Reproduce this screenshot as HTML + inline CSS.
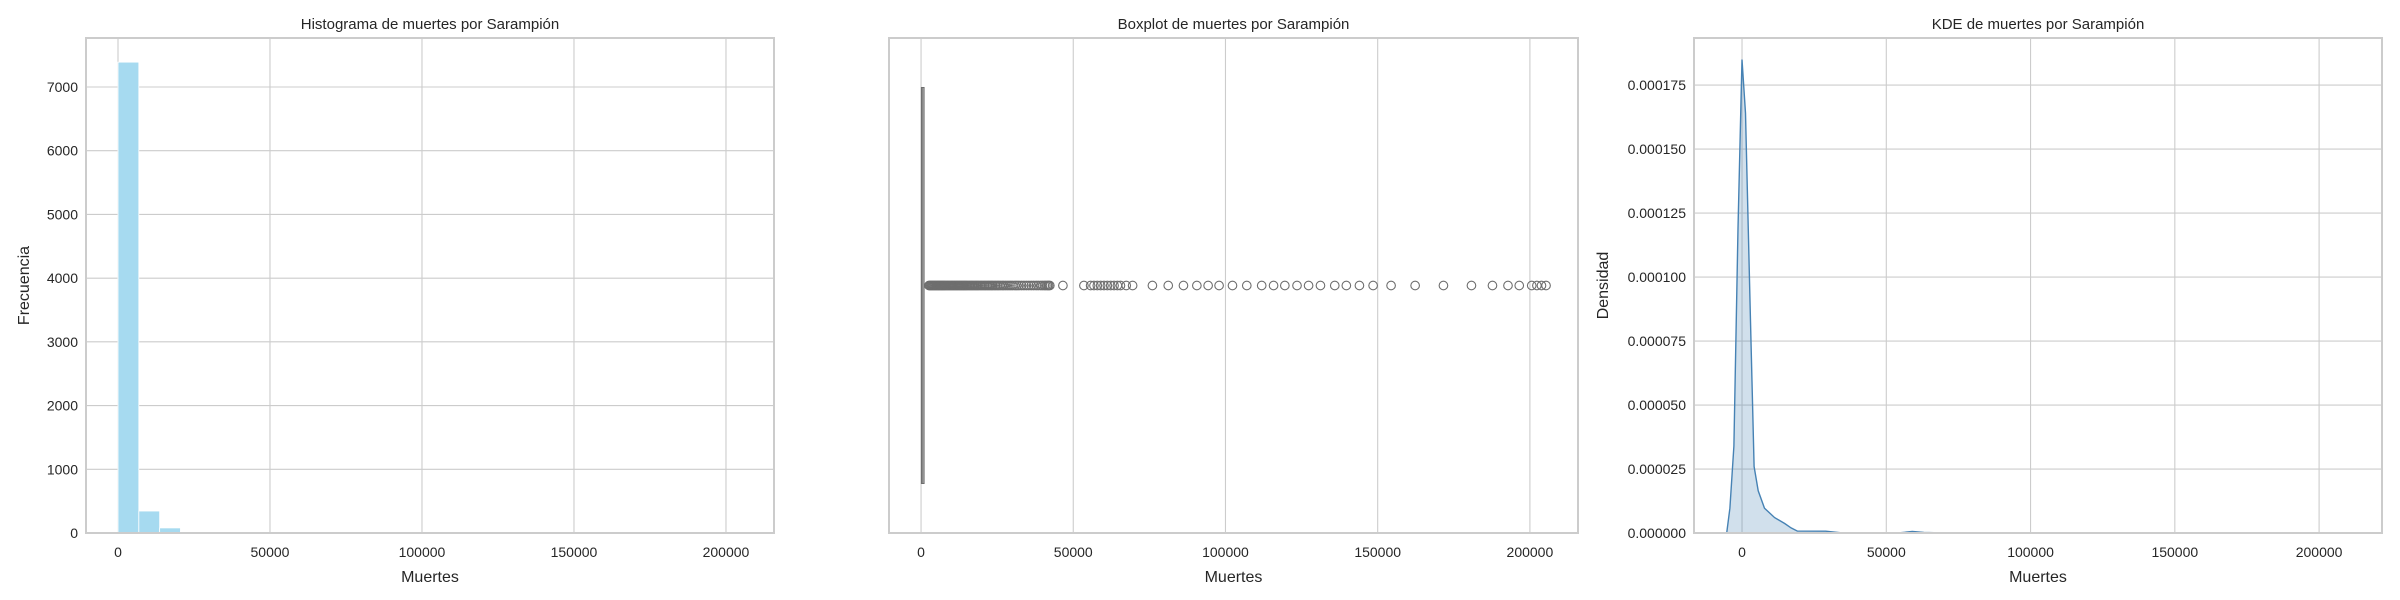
<!DOCTYPE html>
<html><head><meta charset="utf-8">
<style>
html,body{margin:0;padding:0;background:#fff;}
svg{display:block;font-family:"Liberation Sans",Arial,sans-serif;}
</style></head>
<body>
<svg id="fig" width="2400" height="600" viewBox="0 0 2400 600"></svg>
<script>
// ---- data ----
const histBinWidth = 6850;
const histCounts = [7390, 345, 80, 22, 12, 8, 5, 4, 6, 9, 3, 2, 1, 2, 1, 1, 1, 1, 1, 1, 1, 1, 1, 1, 1, 1, 1, 1, 1, 1];
const xTicks = [0, 50000, 100000, 150000, 200000];
const xTickLabels = ["0", "50000", "100000", "150000", "200000"];
const histYTicks = [0, 1000, 2000, 3000, 4000, 5000, 6000, 7000];
const boxStats = [0, 120, 350, 1000, 2500]; // min, q1, median, q3, upper whisker
const outliers = [2600, 2900, 3200, 3500, 3800, 4100, 4400, 4700, 5000, 5300, 5600, 5900, 6200, 6500, 6800, 7100, 7400, 7700, 8000, 8350, 8700, 9050, 9400, 9750, 10100, 10450, 10800, 11150, 11500, 11850, 12200, 12550, 12900, 13250, 13600, 13950, 14300, 14650, 15000, 15400, 15800, 16200, 16600, 17000, 17400, 17800, 18200, 18600, 19000, 19450, 19900, 20350, 20800, 21250, 21700, 22150, 22600, 23050, 23500, 24000, 24500, 25000, 25500, 26000, 26600, 27100, 27700, 28300, 28900, 29500, 30100, 30800, 31500, 32200, 33000, 33800, 34600, 35400, 36200, 37000, 37800, 38500, 39300, 39900, 40500, 41000, 41500, 41900, 42300, 46600, 53500, 55700, 56800, 57900, 59000, 60100, 61200, 62300, 63400, 64500, 65500, 67400, 69500, 76000, 81200, 86200, 90600, 94300, 97900, 102300, 107000, 111900, 115800, 119500, 123500, 127300, 131200, 135900, 139700, 144000, 148500, 154400, 162300, 171600, 180800, 187700, 192800, 196500, 200600, 202300, 203800, 205300];
const kdeX = [-5300, -4200, -2800, -1400, 0, 1200, 2800, 4200, 5600, 7800, 11300, 14800, 17000, 19200, 29000, 34000, 55000, 59000, 63000, 70000, 100000, 150000, 210000];
const kdeY = [0, 9.7e-6, 34e-6, 119e-6, 185e-6, 164e-6, 89e-6, 26e-6, 16.5e-6, 9.7e-6, 6e-6, 3.7e-6, 2e-6, 0.75e-6, 0.7e-6, 0.1e-6, 0.1e-6, 0.6e-6, 0.2e-6, 0.05e-6, 0.02e-6, 0.02e-6, 0.01e-6];
const kdeYTicks = [0, 0.000025, 0.00005, 0.000075, 0.0001, 0.000125, 0.00015, 0.000175];
const kdeYTickLabels = ["0.000000", "0.000025", "0.000050", "0.000075", "0.000100", "0.000125", "0.000150", "0.000175"];

const NS = "http://www.w3.org/2000/svg";
const svg = document.getElementById('fig');
function mk(tag, attrs, parent, text) {
  const e = document.createElementNS(NS, tag);
  for (const k in attrs) e.setAttribute(k, attrs[k]);
  if (text !== undefined) e.textContent = text;
  (parent || svg).appendChild(e);
  return e;
}
const TOP = 38, BOT = 533;
const TXT = "#262626", GRID = "#cccccc";

function panel(name, left, right, xmin, xmax, ymin, ymax) {
  const g = mk('g', {});
  
  
  const sx = v => left + (v - xmin) / (xmax - xmin) * (right - left);
  const sy = v => BOT - (v - ymin) / (ymax - ymin) * (BOT - TOP);
  return {g, sx, sy, left, right};
}
function xAxis(p, gridOn) {
  xTicks.forEach((t, i) => {
    const x = p.sx(t);
    if (gridOn) {
      const l = mk('line', {x1: x, x2: x, y1: TOP, y2: BOT, stroke: GRID, 'stroke-width': 1.1}, p.g);
      
      
    }
    const tx = mk('text', {x: x, y: 557, 'font-size': 14, fill: TXT, 'text-anchor': 'middle'}, p.g, xTickLabels[i]);
    
    
  });
  const xl = mk('text', {x: (p.left + p.right) / 2, y: 582, 'font-size': 16, fill: TXT, 'text-anchor': 'middle'}, p.g, 'Muertes');
  
  
}
function yAxis(p, ticks, labels) {
  ticks.forEach((t, i) => {
    const y = p.sy(t);
    const l = mk('line', {x1: p.left, x2: p.right, y1: y, y2: y, stroke: GRID, 'stroke-width': 1.1}, p.g);
    
    
    const tx = mk('text', {x: p.left - 8, y: y + 5, 'font-size': 14, fill: TXT, 'text-anchor': 'end'}, p.g, labels[i]);
    
    
  });
}
function title(p, t) {
  const e = mk('text', {x: (p.left + p.right) / 2, y: 29, 'font-size': 15, fill: TXT, 'text-anchor': 'middle'}, p.g, t);
  
  
}
function frame(p) {
  const r = mk('rect', {x: p.left, y: TOP, width: p.right - p.left, height: BOT - TOP, fill: 'none', stroke: GRID, 'stroke-width': 2}, p.g);
  
  
}

// ---- Panel 1: histogram ----
const p1 = panel('histogram-panel', 86, 774, -10526, 215800, 0, 7769);
xAxis(p1, true);
yAxis(p1, histYTicks, histYTicks.map(String));
histCounts.forEach((c, i) => {
  const x0 = p1.sx(i * histBinWidth), x1 = p1.sx((i + 1) * histBinWidth);
  const b = mk('rect', {x: x0, y: p1.sy(c), width: x1 - x0, height: BOT - p1.sy(c), fill: '#a6daf0', stroke: '#ffffff', 'stroke-width': 0.8}, p1.g);
  
  
});
frame(p1);
title(p1, 'Histograma de muertes por Sarampión');
const yl1 = mk('text', {x: 0, y: 0, 'font-size': 16, fill: TXT, 'text-anchor': 'middle', transform: 'translate(29,285.5) rotate(-90)'}, p1.g, 'Frecuencia');



// ---- Panel 2: boxplot ----
const p2 = panel('boxplot-panel', 889, 1578, -10526, 215800, -0.5, 0.5);
xAxis(p2, true);
const cy = p2.sy(0), bh = 0.4;
outliers.forEach(v => {
  const c = mk('circle', {cx: p2.sx(v), cy: cy, r: 4.3, fill: 'none', stroke: '#6e6e6e', 'stroke-width': 1.1}, p2.g);
  
  
});
const wl = mk('line', {x1: p2.sx(boxStats[3]), x2: p2.sx(boxStats[4]), y1: cy, y2: cy, stroke: '#6e6e6e', 'stroke-width': 1.5}, p2.g);


const bx = mk('rect', {x: p2.sx(boxStats[1]), y: p2.sy(bh), width: Math.max(1.5, p2.sx(boxStats[3]) - p2.sx(boxStats[1])), height: p2.sy(-bh) - p2.sy(bh), fill: '#b0b0b0', stroke: '#6e6e6e', 'stroke-width': 1}, p2.g);


const md = mk('line', {x1: p2.sx(boxStats[2]), x2: p2.sx(boxStats[2]), y1: p2.sy(bh), y2: p2.sy(-bh), stroke: '#6e6e6e', 'stroke-width': 1}, p2.g);


frame(p2);
title(p2, 'Boxplot de muertes por Sarampión');

// ---- Panel 3: KDE ----
const p3 = panel('kde-panel', 1694, 2382, -16640, 221800, 0, 0.0001934);
xAxis(p3, true);
yAxis(p3, kdeYTicks, kdeYTickLabels);
let d = '';
kdeX.forEach((v, i) => { d += (i ? 'L' : 'M') + p3.sx(v).toFixed(1) + ',' + p3.sy(kdeY[i]).toFixed(1); });
const area = mk('path', {d: d + 'L' + p3.sx(kdeX[kdeX.length - 1]) + ',' + BOT + 'L' + p3.sx(kdeX[0]) + ',' + BOT + 'Z', fill: '#4682b4', 'fill-opacity': 0.25, stroke: 'none'}, p3.g);


const line = mk('path', {d: d, fill: 'none', stroke: '#4682b4', 'stroke-width': 1.4}, p3.g);


frame(p3);
title(p3, 'KDE de muertes por Sarampión');
const yl3 = mk('text', {x: 0, y: 0, 'font-size': 16, fill: TXT, 'text-anchor': 'middle', transform: 'translate(1608,285.5) rotate(-90)'}, p3.g, 'Densidad');


</script>
</body></html>
